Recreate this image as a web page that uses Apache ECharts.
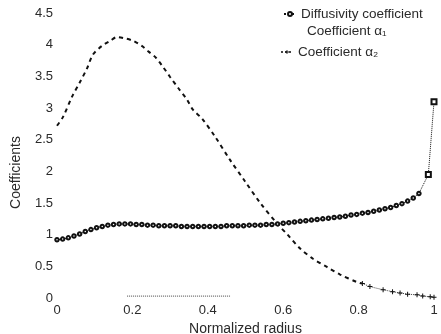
<!DOCTYPE html>
<html>
<head>
<meta charset="utf-8">
<script src="https://cdn.jsdelivr.net/npm/echarts@6/dist/echarts.min.js"></script>
<style>html,body{margin:0;padding:0;background:#fff;}#c{width:441px;height:334px;}</style>
</head>
<body>
<div id="c"></div>
<script>
// Tick labels
const xTicks = ['0', '0.2', '0.4', '0.6', '0.8', '1'];
const yTicks = ['0', '0.5', '1', '1.5', '2', '2.5', '3', '3.5', '4', '4.5'];

// Diffusivity coefficient
const radiusD = [0.000,0.015,0.030,0.045,0.060,0.075,0.090,0.105,0.120,0.135,0.150,0.165,0.180,0.195,0.210,0.225,0.240,0.255,0.270,0.285,0.300,0.315,0.330,0.345,0.360,0.375,0.390,0.405,0.420,0.435,0.450,0.465,0.480,0.495,0.510,0.525,0.540,0.555,0.570,0.585,0.600,0.615,0.630,0.645,0.660,0.675,0.690,0.705,0.720,0.735,0.750,0.765,0.780,0.795,0.810,0.825,0.840,0.855,0.870,0.885,0.900,0.915,0.930,0.945,0.960,0.985,1.000];
const diffusivity = [0.92,0.93,0.95,0.98,1.01,1.05,1.08,1.11,1.13,1.15,1.16,1.17,1.17,1.17,1.16,1.16,1.15,1.15,1.14,1.14,1.14,1.14,1.13,1.13,1.13,1.13,1.13,1.13,1.13,1.13,1.14,1.14,1.14,1.14,1.15,1.15,1.15,1.16,1.16,1.17,1.18,1.19,1.20,1.21,1.22,1.23,1.24,1.25,1.26,1.27,1.28,1.29,1.31,1.32,1.34,1.35,1.37,1.39,1.41,1.43,1.46,1.49,1.53,1.58,1.65,1.95,3.10];

// Coefficient alpha1
const radiusA1 = [0,0.016,0.040,0.061,0.080,0.095,0.119,0.141,0.159,0.180,0.202,0.225,0.241,0.263,0.281,0.300,0.321,0.345,0.361,0.385,0.419,0.459,0.499,0.538,0.586,0.610,0.645,0.679,0.716,0.751,0.796,0.810];
const alpha1 = [2.72,2.86,3.18,3.41,3.63,3.84,3.98,4.06,4.12,4.10,4.06,3.98,3.90,3.79,3.65,3.49,3.32,3.13,2.97,2.83,2.55,2.18,1.84,1.51,1.16,1.01,0.78,0.62,0.49,0.37,0.25,0.23];

// Coefficient alpha2
const radiusA2 = [0.186,0.459,0.600,0.810,0.830,0.865,0.890,0.910,0.930,0.955,0.970,0.990,1.000];
const alpha2 = [0.03,0.03,'-',0.23,0.18,0.13,0.10,0.08,0.06,0.05,0.03,0.02,0.01];

const names = ['Diffusivity coefficient', 'Coefficient α\u2081', 'Coefficient α\u2082'];
const FONT = '"Liberation Sans", Arial, sans-serif';
const TXT = '#2a2a2a';
const plusPath = 'path://M4,0H6V4H10V6H6V10H4V6H0V4H4Z';

const zip = (xs, ys) => xs.map((x, i) => [x, ys[i]]);

const dData = zip(radiusD, diffusivity).map((p, i) =>
  i >= radiusD.length - 2 ? { value: p, symbol: 'emptyRect', symbolSize: 5 } : p);
const a2Data = zip(radiusA2, alpha2).map((p, i) =>
  i < 3 ? { value: p, symbol: 'none' } : p);

const chart = echarts.init(document.getElementById('c'), null, { renderer: 'canvas' });
chart.setOption({
  animation: false,
  backgroundColor: '#fff',
  textStyle: { fontFamily: FONT, color: TXT },
  grid: { left: 57, right: 7, top: 13, bottom: 36, containLabel: false, outerBoundsMode: 'none' },
  legend: [
    { data: [names[0]], left: 283, top: 7, padding: 0, itemWidth: 12, itemHeight: 5,
      textStyle: { fontSize: 13.5, color: TXT, fontFamily: FONT } },
    { data: [{ name: names[1], itemStyle: { opacity: 0 }, lineStyle: { opacity: 0 } }],
      left: 299, top: 24, padding: 0, itemWidth: 1, itemHeight: 6,
      textStyle: { fontSize: 13.5, color: TXT, fontFamily: FONT } },
    { data: [names[2]], left: 280, top: 45, padding: 0, itemWidth: 12, itemHeight: 5,
      textStyle: { fontSize: 13.5, color: TXT, fontFamily: FONT } }
  ],
  xAxis: {
    type: 'value', min: 0, max: 1, interval: 0.2,
    name: 'Normalized radius', nameLocation: 'middle', nameGap: 13,
    nameTextStyle: { fontSize: 14, color: TXT, fontFamily: FONT },
    axisLine: { show: false }, axisTick: { show: false }, splitLine: { show: false },
    axisLabel: { margin: 6, fontSize: 13, color: TXT, fontFamily: FONT,
      formatter: v => xTicks[Math.round(v / 0.2)] }
  },
  yAxis: {
    type: 'value', min: 0, max: 4.5, interval: 0.5,
    name: 'Coefficients', nameLocation: 'middle', nameGap: 34,
    nameTextStyle: { fontSize: 14, color: TXT, fontFamily: FONT, padding: [0, 34, 0, 0] },
    axisLine: { show: false }, axisTick: { show: false }, splitLine: { show: false },
    axisLabel: { margin: 4, fontSize: 13, color: TXT, fontFamily: FONT,
      formatter: v => yTicks[Math.round(v / 0.5)] }
  },
  series: [
    { name: names[0], type: 'line', data: dData, symbol: 'emptyCircle', symbolSize: 3.5,
      showSymbol: true, clip: false,
      lineStyle: { color: '#111', width: 1, type: 'dotted' },
      itemStyle: { color: '#111', borderColor: '#111', borderWidth: 0.9 } },
    { name: names[1], type: 'line', data: zip(radiusA1, alpha1), symbol: 'none', smooth: 0.3,
      lineStyle: { color: '#111', width: 2, type: [4, 4] },
      itemStyle: { color: '#111' } },
    { name: names[2], type: 'line', data: a2Data, symbol: plusPath, symbolSize: 5,
      connectNulls: false, clip: false,
      lineStyle: { color: '#444', width: 1, type: 'dotted' },
      itemStyle: { color: '#111' } }
  ]
});
</script>
</body>
</html>
